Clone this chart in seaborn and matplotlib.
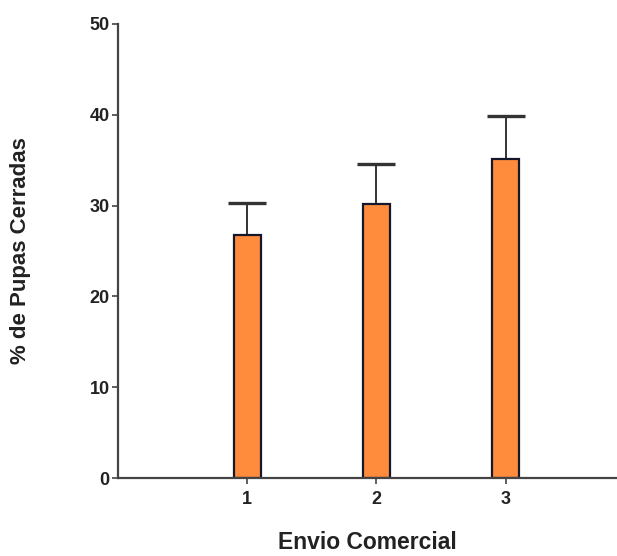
import matplotlib
matplotlib.use("Agg")
import matplotlib.pyplot as plt
import seaborn as sns
import pandas as pd

envio = [1, 2, 3]
media = [26.8, 30.2, 35.1]
error_sup = [3.5, 4.4, 4.8]

sns.set_style("white")
plt.rcParams['font.family'] = ['Liberation Sans', 'DejaVu Sans']

df = pd.DataFrame({"Envio": envio, "Media": media})

fig = plt.figure(figsize=(6.17, 5.56), dpi=100)
ax = fig.add_axes([0.191, 0.140, 0.809, 0.817])

sns.barplot(data=df, x="Envio", y="Media", native_scale=True, width=0.21,
            color="#FF8C3C", saturation=1, edgecolor="#15172a", linewidth=1.6,
            errorbar=None, ax=ax, zorder=2)
eb = ax.errorbar(envio, media, yerr=[[0]*3, error_sup], fmt="none",
                 ecolor="#333333", elinewidth=1.4, capsize=14, capthick=2.4, zorder=1)
caps = eb.lines[1]
if len(caps) == 2:
    caps[0].set_visible(False)

ax.set_xlim(0, 3.86)
ax.set_ylim(0, 50)
ax.set_yticks([0, 10, 20, 30, 40, 50])
ax.set_xticks(envio)
ax.set_xticklabels([str(e) for e in envio])

for s in ["top", "right"]:
    ax.spines[s].set_visible(False)
for s in ["left", "bottom"]:
    ax.spines[s].set_color("#444444")
    ax.spines[s].set_linewidth(1.6)

ax.tick_params(axis="y", direction="out", length=4, width=1.2, color="#444444",
               labelsize=13, pad=2, left=True)
ax.tick_params(axis="x", direction="inout", length=8, width=1.2, color="#444444",
               labelsize=13, pad=5, bottom=True)
for lab in ax.get_xticklabels() + ax.get_yticklabels():
    lab.set_fontweight("bold")
    lab.set_color("#222222")

ax.set_xlabel("Envio Comercial", fontsize=16.5, fontweight="bold", labelpad=17, color="#222222")
ax.set_ylabel("% de Pupas Cerradas", fontsize=16, fontweight="bold", labelpad=42, color="#222222")

fig.savefig("out.png", dpi=100)
